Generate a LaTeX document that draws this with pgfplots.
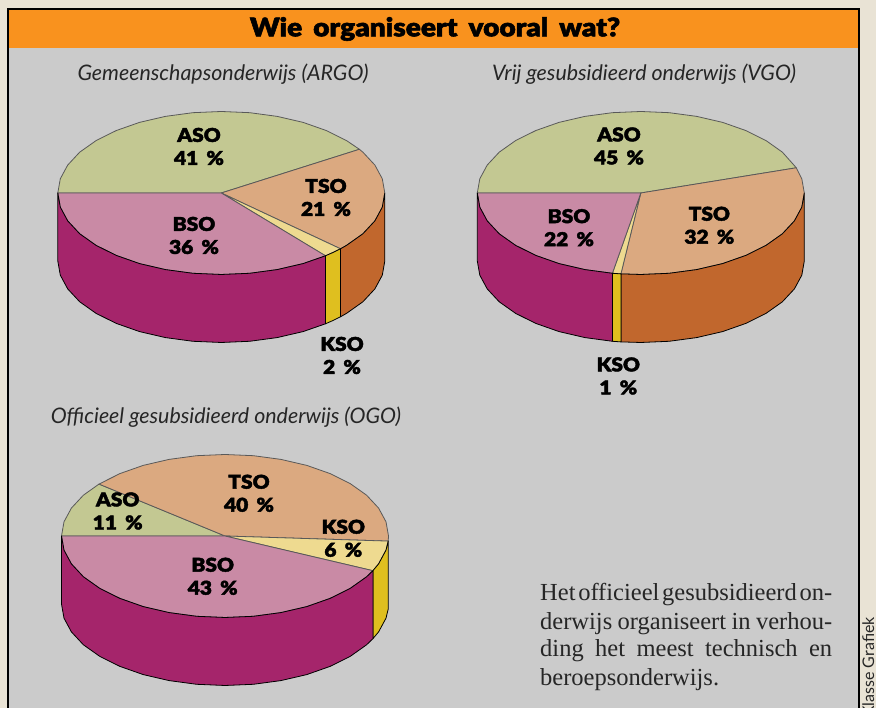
\documentclass[border=0pt]{standalone}
\usepackage{fontspec}
\usepackage{pgfplots}
\pgfplotsset{compat=1.18}
\setmainfont{Lato}
\newfontfamily\heavy[FakeBold=2.2, FakeStretch=1.1, WordSpace=1.7]{Lato Black}
\newfontfamily\bodyserif{Liberation Serif}
\newcommand\bline[1]{\spaceskip=2pt plus 20pt\relax\makebox[292pt][s]{#1}}

\definecolor{pagebg}{HTML}{E9E3D5}
\definecolor{panel}{HTML}{CBCBCB}
\definecolor{band}{HTML}{F9921E}
\definecolor{topaso}{HTML}{C3C892}
\definecolor{toptso}{HTML}{DBA980}
\definecolor{topbso}{HTML}{C98AA5}
\definecolor{topkso}{HTML}{EEDA90}
\definecolor{walltso}{HTML}{C1672D}
\definecolor{wallbso}{HTML}{A5256B}
\definecolor{wallkso}{HTML}{DFBF1F}

\pgfplotsset{
  sheet/.style={at={(0pt,0pt)}, anchor=south west, scale only axis, width=876pt, height=708pt, hide axis, clip=true},
  top/.style={fill=#1, draw=black!65, line width=0.8pt, line join=round},
  wall/.style={fill=#1, draw=black, line width=0.8pt, line join=round},
}
\tikzset{
  lab/.style={font=\heavy\fontsize{19}{23}\selectfont, align=center, text=black},
  sub/.style={font=\itshape\fontsize{21.4}{24}\selectfont, text=black!85},
  body/.style={anchor=base west, inner sep=0pt, text=black!85, font=\bodyserif\fontsize{24.5}{28}\selectfont},
}

\begin{document}
\begin{tikzpicture}
\path[clip, use as bounding box] (0pt,0pt) rectangle (876pt,708pt);

% page, panel and texts in picture pixels
\begin{axis}[sheet, xmin=0, xmax=876, ymin=0, ymax=708, y dir=reverse]
\addplot[fill=pagebg, draw=none] coordinates {(0,0) (876,0) (876,708) (0,708)} --cycle;
\addplot[fill=panel, draw=black, line width=2pt] coordinates {(8,9.5) (858.7,9.5) (858.7,720) (8,720)} --cycle;
\addplot[fill=band, draw=none] coordinates {(9,10.5) (857.7,10.5) (857.7,47.7) (9,47.7)} --cycle;
\node[font=\heavy\fontsize{25.5}{28}\selectfont] at (axis cs:435,29) {Wie organiseert vooral wat?};
\node[sub] at (axis cs:223,74) {Gemeenschapsonderwijs (ARGO)};
\node[sub] at (axis cs:644,74) {Vrij gesubsidieerd onderwijs (VGO)};
\node[sub] at (axis cs:226,417) {Officieel gesubsidieerd onderwijs (OGO)};
\node[body] at (axis cs:540,600.7) {\bline{Het officieel gesubsidieerd on-}};
\node[body] at (axis cs:540,629) {\bline{derwijs organiseert in verhou-}};
\node[body] at (axis cs:540,656.7) {\bline{ding het meest technisch en}};
\node[body] at (axis cs:540,685) {beroepsonderwijs.};
\node[rotate=90, anchor=base west, inner sep=0pt, font=\fontsize{16}{18}\selectfont, text=black!85] at (axis cs:874,717) {Klasse Grafiek};
\end{axis}

% ARGO: coordinates relative to the pie centre
\begin{axis}[sheet, xmin=-221.3, xmax=654.7, ymin=-515, ymax=193]
\addplot[top=topaso] coordinates {(0,0) (-163.5,0) (-161,14.2) (-153.6,27.9) (-141.6,40.8) (-125.2,52.4) (-105.1,62.4) (-81.8,70.6) (-55.9,76.6) (-28.4,80.3) (0,81.5) (28.4,80.3) (55.9,76.6) (81.8,70.6) (105.1,62.4) (125.2,52.4) (138.1,43.7)} --cycle;
\addplot[top=toptso] coordinates {(0,0) (138.1,43.7) (141.6,40.8) (153.6,27.9) (161,14.2) (163.5,0) (161,-14.2) (153.6,-27.9) (141.6,-40.8) (125.2,-52.4) (119.2,-55.8)} --cycle;
\addplot[top=topkso] coordinates {(0,0) (119.2,-55.8) (111.5,-59.6) (104.2,-62.8)} --cycle;
\addplot[top=topbso] coordinates {(0,0) (104.2,-62.8) (81.8,-70.6) (55.9,-76.6) (28.4,-80.3) (0,-81.5) (-28.4,-80.3) (-55.9,-76.6) (-81.8,-70.6) (-105.1,-62.4) (-125.2,-52.4) (-141.6,-40.8) (-153.6,-27.9) (-161,-14.2) (-163.5,0)} --cycle;
\addplot[wall=walltso] coordinates {(163.5,0) (161,-14.2) (153.6,-27.9) (141.6,-40.8) (125.2,-52.4) (119.2,-55.8) (119.2,-123.8) (125.2,-120.4) (141.6,-108.8) (153.6,-95.9) (161,-82.2) (163.5,-68)} --cycle;
\addplot[wall=wallkso] coordinates {(119.2,-55.8) (111.5,-59.6) (104.2,-62.8) (104.2,-130.8) (111.5,-127.6) (119.2,-123.8)} --cycle;
\addplot[wall=wallbso] coordinates {(104.2,-62.8) (81.8,-70.6) (55.9,-76.6) (28.4,-80.3) (0,-81.5) (-28.4,-80.3) (-55.9,-76.6) (-81.8,-70.6) (-105.1,-62.4) (-125.2,-52.4) (-141.6,-40.8) (-153.6,-27.9) (-161,-14.2) (-163.5,0) (-163.5,-68) (-161,-82.2) (-153.6,-95.9) (-141.6,-108.8) (-125.2,-120.4) (-105.1,-130.4) (-81.8,-138.6) (-55.9,-144.6) (-28.4,-148.3) (0,-149.5) (28.4,-148.3) (55.9,-144.6) (81.8,-138.6) (104.2,-130.8)} --cycle;
\node[lab] at (axis cs:-22.3,46.5) {ASO\\41 \%};
\node[lab] at (axis cs:104.7,-4.5) {TSO\\21 \%};
\node[lab] at (axis cs:-27.3,-42.5) {BSO\\36 \%};
\node[lab] at (axis cs:120.7,-162.5) {KSO\\2 \%};
\end{axis}

% VGO
\begin{axis}[sheet, xmin=-640.8, xmax=235.2, ymin=-515, ymax=193]
\addplot[top=topaso] coordinates {(0,0) (-163.5,0) (-161,14.2) (-153.6,27.9) (-141.6,40.8) (-125.2,52.4) (-105.1,62.4) (-81.8,70.6) (-55.9,76.6) (-28.4,80.3) (0,81.5) (28.4,80.3) (55.9,76.6) (81.8,70.6) (105.1,62.4) (125.2,52.4) (141.6,40.8) (155.5,25.2)} --cycle;
\addplot[top=toptso] coordinates {(0,0) (155.5,25.2) (161,14.2) (163.5,0) (161,-14.2) (153.6,-27.9) (141.6,-40.8) (125.2,-52.4) (105.1,-62.4) (81.8,-70.6) (55.9,-76.6) (28.4,-80.3) (0,-81.5) (-19.9,-80.9)} --cycle;
\addplot[top=topkso] coordinates {(0,0) (-19.9,-80.9) (-28.4,-80.3)} --cycle;
\addplot[top=topbso] coordinates {(0,0) (-28.4,-80.3) (-55.9,-76.6) (-81.8,-70.6) (-105.1,-62.4) (-125.2,-52.4) (-141.6,-40.8) (-153.6,-27.9) (-161,-14.2) (-163.5,0)} --cycle;
\addplot[wall=walltso] coordinates {(163.5,0) (161,-14.2) (153.6,-27.9) (141.6,-40.8) (125.2,-52.4) (105.1,-62.4) (81.8,-70.6) (55.9,-76.6) (28.4,-80.3) (0,-81.5) (-19.9,-80.9) (-19.9,-148.9) (0,-149.5) (28.4,-148.3) (55.9,-144.6) (81.8,-138.6) (105.1,-130.4) (125.2,-120.4) (141.6,-108.8) (153.6,-95.9) (161,-82.2) (163.5,-68)} --cycle;
\addplot[wall=wallkso] coordinates {(-19.9,-80.9) (-28.4,-80.3) (-28.4,-148.3) (-19.9,-148.9)} --cycle;
\addplot[wall=wallbso] coordinates {(-28.4,-80.3) (-55.9,-76.6) (-81.8,-70.6) (-105.1,-62.4) (-125.2,-52.4) (-141.6,-40.8) (-153.6,-27.9) (-161,-14.2) (-163.5,0) (-163.5,-68) (-161,-82.2) (-153.6,-95.9) (-141.6,-108.8) (-125.2,-120.4) (-105.1,-130.4) (-81.8,-138.6) (-55.9,-144.6) (-28.4,-148.3)} --cycle;
\node[lab] at (axis cs:-21.8,47) {ASO\\45 \%};
\node[lab] at (axis cs:68.5,-32.3) {TSO\\32 \%};
\node[lab] at (axis cs:-71.8,-34.7) {BSO\\22 \%};
\node[lab] at (axis cs:-22.5,-183) {KSO\\1 \%};
\end{axis}

% OGO
\begin{axis}[sheet, xmin=-225, xmax=651, ymin=-172, ymax=536]
\addplot[top=topaso] coordinates {(0,0) (-163.5,0) (-161,14.2) (-153.6,27.9) (-141.6,40.8) (-126,51.9)} --cycle;
\addplot[top=toptso] coordinates {(0,0) (-126,51.9) (-105.1,62.4) (-81.8,70.6) (-55.9,76.6) (-28.4,80.3) (0,81.5) (28.4,80.3) (55.9,76.6) (81.8,70.6) (105.1,62.4) (125.2,52.4) (141.6,40.8) (153.6,27.9) (161,14.2) (163.5,0) (163.2,-5.1)} --cycle;
\addplot[top=topkso] coordinates {(0,0) (163.2,-5.1) (161,-14.2) (153.6,-27.9) (147.9,-34.7)} --cycle;
\addplot[top=topbso] coordinates {(0,0) (147.9,-34.7) (141.6,-40.8) (125.2,-52.4) (105.1,-62.4) (81.8,-70.6) (55.9,-76.6) (28.4,-80.3) (0,-81.5) (-28.4,-80.3) (-55.9,-76.6) (-81.8,-70.6) (-105.1,-62.4) (-125.2,-52.4) (-141.6,-40.8) (-153.6,-27.9) (-161,-14.2) (-163.5,0)} --cycle;
\addplot[wall=wallkso] coordinates {(163.2,-5.1) (161,-14.2) (153.6,-27.9) (147.9,-34.7) (147.9,-102.7) (153.6,-95.9) (161,-82.2) (163.2,-73.1)} --cycle;
\addplot[wall=wallbso] coordinates {(147.9,-34.7) (141.6,-40.8) (125.2,-52.4) (105.1,-62.4) (81.8,-70.6) (55.9,-76.6) (28.4,-80.3) (0,-81.5) (-28.4,-80.3) (-55.9,-76.6) (-81.8,-70.6) (-105.1,-62.4) (-125.2,-52.4) (-141.6,-40.8) (-153.6,-27.9) (-161,-14.2) (-163.5,0) (-163.5,-68) (-161,-82.2) (-153.6,-95.9) (-141.6,-108.8) (-125.2,-120.4) (-105.1,-130.4) (-81.8,-138.6) (-55.9,-144.6) (-28.4,-148.3) (0,-149.5) (28.4,-148.3) (55.9,-144.6) (81.8,-138.6) (105.1,-130.4) (125.2,-120.4) (141.6,-108.8) (147.9,-102.7)} --cycle;
\node[lab] at (axis cs:-107.3,25) {ASO\\11 \%};
\node[lab] at (axis cs:24,42.7) {TSO\\40 \%};
\node[lab] at (axis cs:118.3,-2.3) {KSO\\6 \%};
\node[lab] at (axis cs:-12.3,-40.3) {BSO\\43 \%};
\end{axis}
\end{tikzpicture}
\end{document}
